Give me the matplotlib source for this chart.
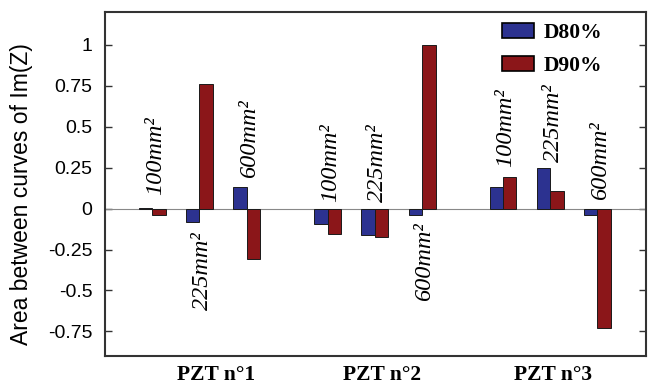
import matplotlib
matplotlib.use("Agg")
import matplotlib.pyplot as plt
import numpy as np

groups = ["PZT n°1", "PZT n°2", "PZT n°3"]
sizes = ["100mm²", "225mm²", "600mm²"]
series_names = ["D80%", "D90%"]
d80 = [0.006, -0.085, 0.134, -0.095, -0.160, -0.038, 0.134, 0.249, -0.038]
d90 = [-0.038, 0.758, -0.308, -0.156, -0.174, 1.0, 0.191, 0.110, -0.727]
yticks = [-0.75, -0.5, -0.25, 0, 0.25, 0.5, 0.75, 1]
ytick_labels = ["-0.75", "-0.5", "-0.25", "0", "0.25", "0.5", "0.75", "1"]
# label anchor (data y) for each size label
label_y = [0.083, -0.142, 0.187, 0.041, 0.041, -0.087, 0.254, 0.284, 0.053]

blue = "#2c3290"
red = "#8b1619"

fig = plt.figure(figsize=(6.55, 3.88), dpi=100)
ax = fig.add_axes([105/655, 1-356/388, (646-105)/655, (356-12)/388])

bw = 1.0
sub_step = 3.5
grp_step = 13.0
centers = []
for g in range(len(groups)):
    for s in range(len(sizes)):
        centers.append(g*grp_step + s*sub_step)
centers = np.array(centers)

ax.bar(centers - bw/2, d80, width=bw, color=blue, edgecolor="#1a1a1a", linewidth=0.7, label=series_names[0], zorder=3)
ax.bar(centers + bw/2, d90, width=bw, color=red, edgecolor="#1a1a1a", linewidth=0.7, label=series_names[1], zorder=3)
ax.axhline(0, color="#888888", linewidth=0.8, zorder=2)

for i, c in enumerate(centers):
    txt = sizes[i % 3]
    y = label_y[i]
    ax.text(c + 0.22, y, txt, rotation=90, rotation_mode="anchor",
            ha="left" if y > 0 else "right", va="center",
            fontsize=17.5, fontstyle="italic", family="Liberation Serif", zorder=4)

ax.set_xlim(-3.5, 36.6)
ax.set_ylim(-0.9, 1.2)
ax.set_yticks(yticks)
ax.set_yticklabels(ytick_labels, family="Liberation Sans", fontsize=14)
grp_label_x = [4.75, 17.0, 29.7]
ax.set_xticks(grp_label_x)
ax.set_xticklabels(groups, family="Liberation Serif", fontweight="bold", fontsize=15.5)
ax.tick_params(axis="x", length=0, pad=6.5)
ax.tick_params(axis="y", direction="in", length=5, width=1, right=True, pad=9, colors="#333333", labelcolor="black")
for sp in ax.spines.values():
    sp.set_linewidth(1.5)
    sp.set_color("#333333")

ax.set_ylabel("Area between curves of Im(Z)", family="Liberation Sans", fontsize=16.5)
ax.yaxis.set_label_coords(-0.134, 0.471)

leg = ax.legend(loc="upper left", bbox_to_anchor=(502/655, 1-23/388), bbox_transform=fig.transFigure,
                frameon=False, borderpad=0, borderaxespad=0, handlelength=1.5, handleheight=0.7,
                handletextpad=0.45, labelspacing=0.6,
                prop={"family": "Liberation Serif", "weight": "bold", "size": 15.5})
for h in leg.legend_handles:
    h.set_edgecolor("black")
    h.set_linewidth(1.2)

fig.savefig("out.png", dpi=100)
